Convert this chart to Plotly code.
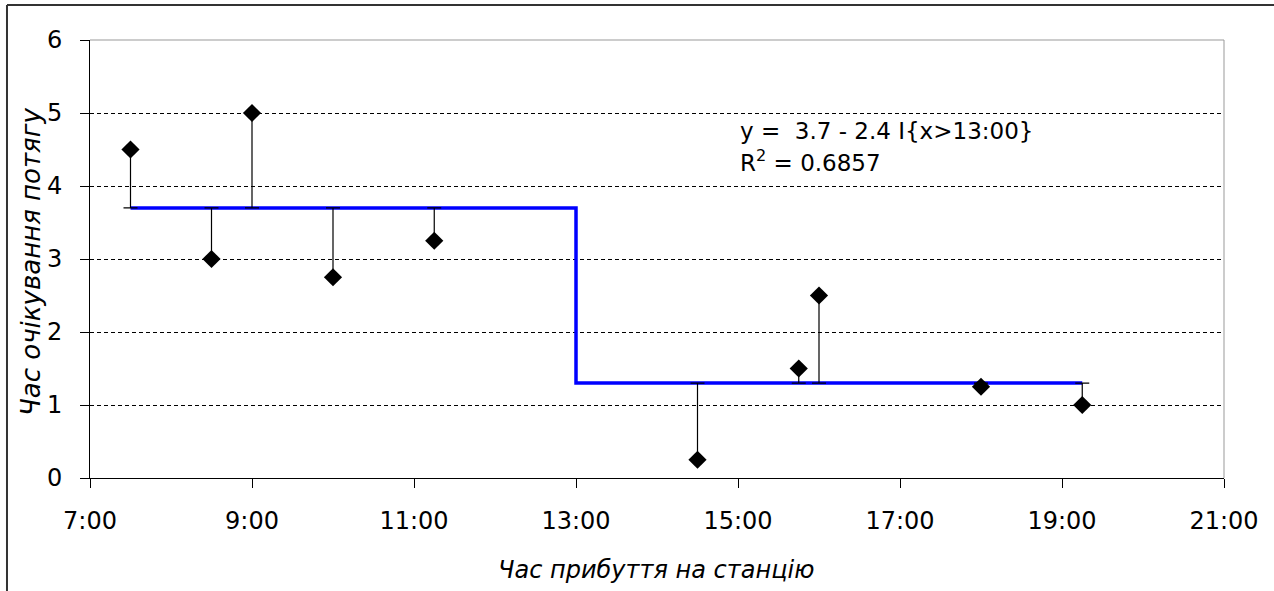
import plotly.graph_objects as go

# ---- data ----
arrival_times = ["7:30", "8:30", "9:00", "10:00", "11:15", "14:30", "15:45", "16:00", "18:00", "19:15"]
wait_hours = [4.5, 3.0, 5.0, 2.75, 3.25, 0.25, 1.5, 2.5, 1.25, 1.0]
fit_times = ["7:30", "13:00", "13:00", "19:15"]
fit_levels = [3.7, 3.7, 1.3, 1.3]
break_time = "13:00"
level_before = 3.7
level_after = 1.3
x_tick_labels = ["7:00", "9:00", "11:00", "13:00", "15:00", "17:00", "19:00", "21:00"]
y_ticks = [0, 1, 2, 3, 4, 5, 6]


def to_hours(s):
    h, m = s.split(":")
    return int(h) + int(m) / 60.0


x = [to_hours(t) for t in arrival_times]
fx = [to_hours(t) for t in fit_times]
brk = to_hours(break_time)
fitted = [level_before if xi < brk else level_after for xi in x]
err_plus = [max(f - y, 0) for f, y in zip(fitted, wait_hours)]
err_minus = [max(y - f, 0) for f, y in zip(fitted, wait_hours)]
xt = [to_hours(t) for t in x_tick_labels]

FONT = "DejaVu Sans"

fig = go.Figure()
fig.add_trace(go.Scatter(
    x=fx, y=fit_levels, mode="lines",
    line=dict(color="#0000FF", width=3.5), hoverinfo="skip"))
fig.add_trace(go.Scatter(
    x=x, y=wait_hours, mode="markers",
    marker=dict(symbol="diamond", size=14, color="black"),
    error_y=dict(type="data", symmetric=False, array=err_plus, arrayminus=err_minus,
                 color="black", thickness=1.2, width=7)))

fig.update_layout(
    width=1274, height=591,
    margin=dict(l=90, r=50, t=40, b=113),
    paper_bgcolor="white", plot_bgcolor="white",
    showlegend=False,
    font=dict(family=FONT, color="black"),
    xaxis=dict(range=[7, 21], tickvals=xt, ticktext=x_tick_labels,
               showgrid=False, zeroline=False, showline=True, linecolor="black", linewidth=1,
               ticks="outside", ticklen=9, tickcolor="black", tickwidth=1,
               tickfont=dict(size=24, family=FONT), ticklabelstandoff=12),
    yaxis=dict(range=[0, 6], tickvals=y_ticks,
               showgrid=True, gridcolor="black", gridwidth=1, griddash="4px,3px",
               zeroline=False, showline=True, linecolor="black", linewidth=1,
               ticks="outside", ticklen=9, tickcolor="black", tickwidth=1,
               tickfont=dict(size=24, family=FONT), ticklabelstandoff=13),
)

# plot-area frame (top/right grey)
fig.add_shape(type="line", xref="paper", yref="paper", x0=0, x1=1, y0=1, y1=1,
              line=dict(color="#999999", width=1), layer="above")
fig.add_shape(type="line", xref="paper", yref="paper", x0=1, x1=1, y0=0, y1=1,
              line=dict(color="#999999", width=1), layer="above")
# outer chart frame (cropped at right and bottom)
fig.add_shape(type="line", xref="paper", yref="paper", x0=-0.0732, x1=1.2, y0=1.0799, y1=1.0799,
              line=dict(color="#333333", width=2), layer="above")
fig.add_shape(type="line", xref="paper", yref="paper", x0=-0.0732, x1=-0.0732, y0=1.0799, y1=-0.4,
              line=dict(color="#333333", width=2), layer="above")

# axis titles
fig.add_annotation(xref="paper", yref="paper", x=(656 - 90) / 1134, y=-(570 - 478) / 438,
                   text="Час прибуття на станцію", showarrow=False,
                   xanchor="center", yanchor="middle",
                   font=dict(size=24, family=FONT, style="italic"))
fig.add_annotation(xref="paper", yref="paper", x=-(90 - 31) / 1134, y=(478 - 262) / 438,
                   text="Час очікування потягу", showarrow=False, textangle=-90,
                   xanchor="center", yanchor="middle",
                   font=dict(size=26, family=FONT, style="italic"))

# regression equation
fig.add_annotation(xref="paper", yref="paper", x=(738 - 90) / 1134, y=(478 - 131) / 438,
                   text="y =  3.7 - 2.4 I{x>13:00}", showarrow=False,
                   xanchor="left", yanchor="middle", font=dict(size=23, family=FONT))
fig.add_annotation(xref="paper", yref="paper", x=(738 - 90) / 1134, y=(478 - 161) / 438,
                   text="R<sup>2</sup> = 0.6857", showarrow=False,
                   xanchor="left", yanchor="middle", font=dict(size=23, family=FONT))

fig.write_html("out.html")
